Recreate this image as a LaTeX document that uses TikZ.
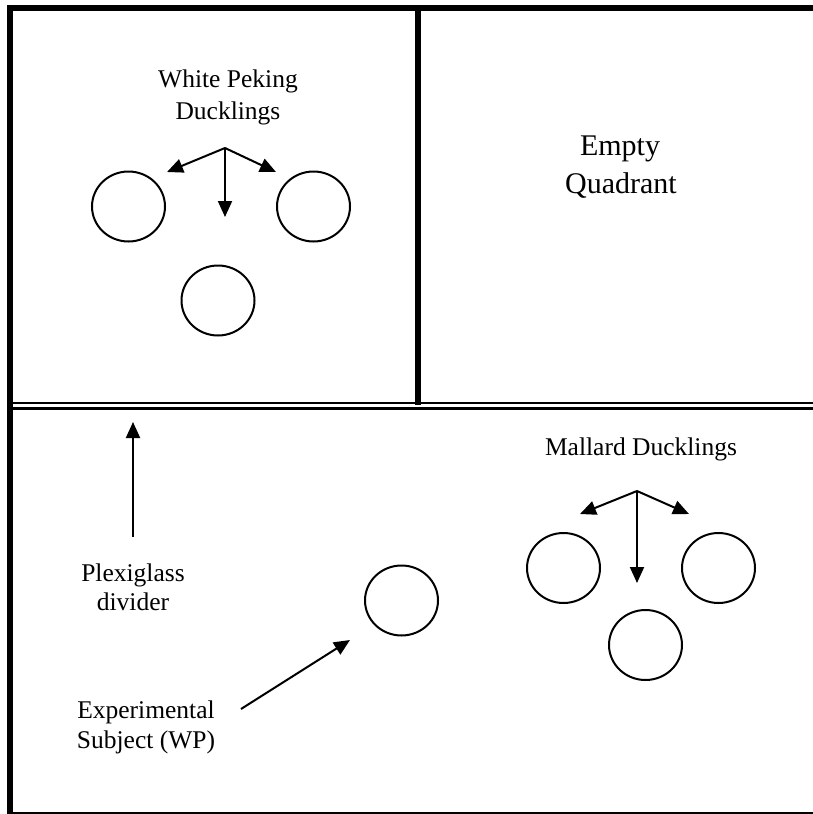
\documentclass[tikz,border=0pt]{standalone}
\usepackage{fontspec}
\setmainfont{Liberation Serif}
\usetikzlibrary{arrows.meta,shapes.geometric}
\tikzset{
  duck/.style={draw, line width=2pt, ellipse, minimum width=73pt, minimum height=70pt, inner sep=0pt},
  lbl/.style={anchor=base, inner sep=0pt, font=\fontsize{25.5}{31}\selectfont},
  biglbl/.style={anchor=base, inner sep=0pt, font=\fontsize{30}{37}\selectfont},
  pointer/.style={line width=2pt, -{Triangle[length=16pt,width=14pt]}},
  wall/.style={line width=6pt},
  divider/.style={line width=2.2pt}
}
\begin{document}
\begin{tikzpicture}[x=1pt,y=-1pt]
\useasboundingbox (0,0) rectangle (813,814);

% enclosure walls
\draw[wall] (10,5) -- (10,814);
\draw[wall] (7,8) -- (813,8);
\draw[line width=2pt] (10,813) -- (813,813);
\draw[line width=5.5pt] (418,8) -- (418,405);
% plexiglass divider (double line)
\draw[divider] (13,403) -- (813,403);
\draw[divider] (13,408.5) -- (813,408.5);

% white Peking ducklings
\node[lbl] (wp1) at (228,87) {White Peking};
\node[lbl] (wp2) at (228,119) {Ducklings};
\node[duck] (wl) at (128.5,206.5) {};
\node[duck] (wr) at (313.5,206.5) {};
\node[duck] (wb) at (218,300.5) {};
\coordinate (wo) at (225,148);
\coordinate (wtl) at (167,172);
\coordinate (wtd) at (225,217);
\coordinate (wtr) at (276,172);
\draw[pointer] (wo) -- (wtl);
\draw[pointer] (wo) -- (wtd);
\draw[pointer] (wo) -- (wtr);

% empty quadrant
\node[biglbl] (eq1) at (620,155) {Empty};
\node[biglbl] (eq2) at (621,193) {Quadrant};

% mallard ducklings
\node[lbl] (md) at (641,455) {Mallard Ducklings};
\node[duck] (ml) at (563.5,568) {};
\node[duck] (mr) at (718.5,568) {};
\node[duck] (mb) at (645.5,645) {};
\coordinate (mo) at (637,491);
\coordinate (mtl) at (580,514);
\coordinate (mtd) at (637,583);
\coordinate (mtr) at (689,514);
\draw[pointer] (mo) -- (mtl);
\draw[pointer] (mo) -- (mtd);
\draw[pointer] (mo) -- (mtr);

% plexiglass label
\node[lbl] (px1) at (133,581) {Plexiglass};
\node[lbl] (px2) at (133,610) {divider};
\coordinate (pxs) at (133,537);
\coordinate (pxt) at (133,422);
\draw[pointer] (pxs) -- (pxt);

% experimental subject
\node[duck] (subj) at (401.5,600.5) {};
\node[lbl] (ex1) at (146,718) {Experimental};
\node[lbl] (ex2) at (146,748) {Subject (WP)};
\coordinate (exs) at (241,709);
\coordinate (ext) at (350,640);
\draw[pointer] (exs) -- (ext);
\end{tikzpicture}
\end{document}
